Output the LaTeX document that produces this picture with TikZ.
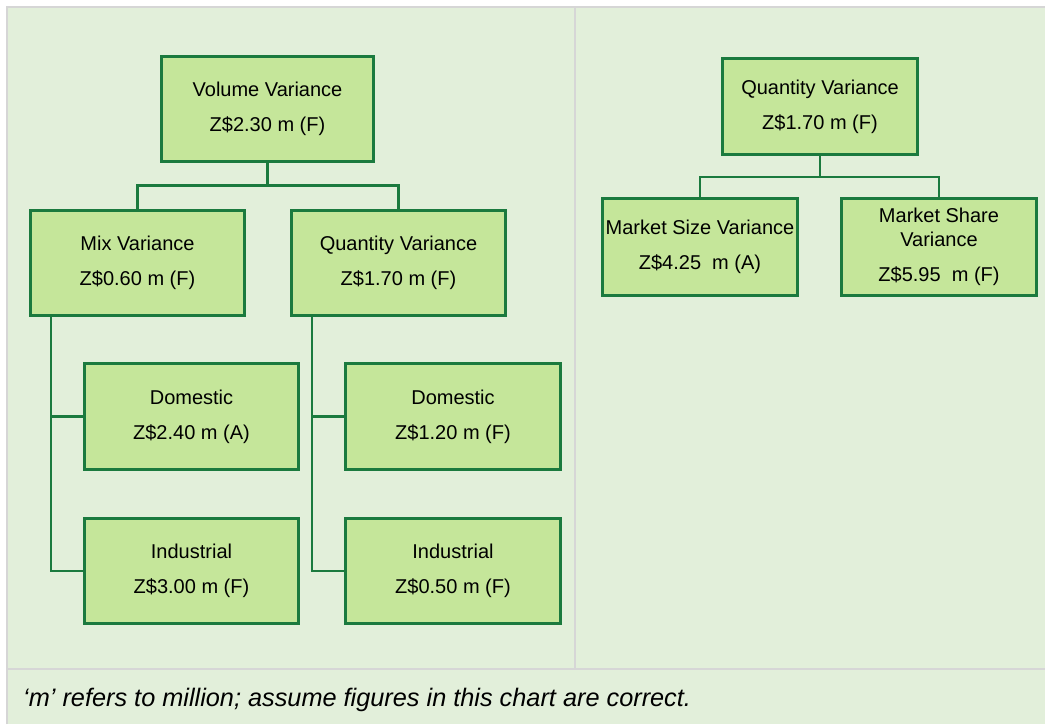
\documentclass[tikz,border=0pt]{standalone}
\usepackage{fontspec}
\setmainfont{Liberation Sans}
\definecolor{bgpanel}{HTML}{E2EFDA}
\definecolor{boxfill}{HTML}{C5E69A}
\definecolor{boxline}{HTML}{1B7A3E}
\definecolor{rulegray}{HTML}{D6D6D6}
\tikzset{
  vbox/.style={draw=boxline, fill=boxfill, line width=3pt, align=center, inner sep=0pt,
    font=\fontsize{20}{24}\selectfont},
  conn/.style={draw=boxline, line width=2.5pt},
  footnote/.style={font=\fontsize{25.3}{30}\selectfont\itshape, anchor=west, inner sep=0pt}
}
\newcommand{\gap}{\\[11pt]}
\begin{document}
\begin{tikzpicture}[x=1pt,y=-1pt]
\useasboundingbox (0,0) rectangle (1045,724);
% background and rules
\fill[white] (0,0) rectangle (1045,724);
\fill[bgpanel] (8,8) rectangle (1045,724);
\draw[rulegray, line width=2pt] (7,724) -- (7,7) -- (1045,7);
\draw[rulegray, line width=2pt] (8,669) -- (1045,669);
\draw[rulegray, line width=2pt] (575,8) -- (575,668);
% left tree
\node[vbox, minimum width=212pt, minimum height=105pt] (vol) at (267.5,109) {Volume Variance\gap Z\$2.30 m (F)};
\node[vbox, minimum width=214pt, minimum height=105pt] (mix) at (137.5,263) {Mix Variance\gap Z\$0.60 m (F)};
\node[vbox, minimum width=214pt, minimum height=105pt] (qty) at (398.5,263) {Quantity Variance\gap Z\$1.70 m (F)};
\node[vbox, minimum width=214pt, minimum height=106pt] (d1) at (191.5,416.5) {Domestic\gap Z\$2.40 m (A)};
\node[vbox, minimum width=214pt, minimum height=105pt] (i1) at (191.5,571) {Industrial\gap Z\$3.00 m (F)};
\node[vbox, minimum width=215pt, minimum height=106pt] (d2) at (453,416.5) {Domestic\gap Z\$1.20 m (F)};
\node[vbox, minimum width=215pt, minimum height=105pt] (i2) at (453,571) {Industrial\gap Z\$0.50 m (F)};
\coordinate (vbar) at ([yshift=-22.5pt]vol.south);
\draw[conn] (vol.south) -- (vbar) -| (mix.north);
\draw[conn] (vbar) -| (qty.north);
\coordinate (mixdrop) at (51,317);
\coordinate (qtydrop) at (312,317);
\draw[conn] (mixdrop) |- (d1.west);
\draw[conn] (mixdrop) |- (i1.west);
\draw[conn] (qtydrop) |- (d2.west);
\draw[conn] (qtydrop) |- (i2.west);
% right tree
\node[vbox, minimum width=195pt, minimum height=96pt] (rq) at (820,106.5) {Quantity Variance\gap Z\$1.70 m (F)};
\node[vbox, minimum width=195pt, minimum height=97pt] (ms) at (700,247) {Market Size Variance\gap Z\$4.25~ m (A)};
\node[vbox, minimum width=195pt, minimum height=97pt] (msh) at (939,247) {Market Share\\Variance\gap Z\$5.95~ m (F)};
\coordinate (rbar) at ([yshift=-21pt]rq.south);
\draw[conn] (rq.south) -- (rbar) -| (ms.north);
\draw[conn] (rbar) -| (msh.north);
% footnote
\node[footnote] (fn) at (23,700) {‘m’ refers to million; assume figures in this chart are correct.};
\end{tikzpicture}
\end{document}
